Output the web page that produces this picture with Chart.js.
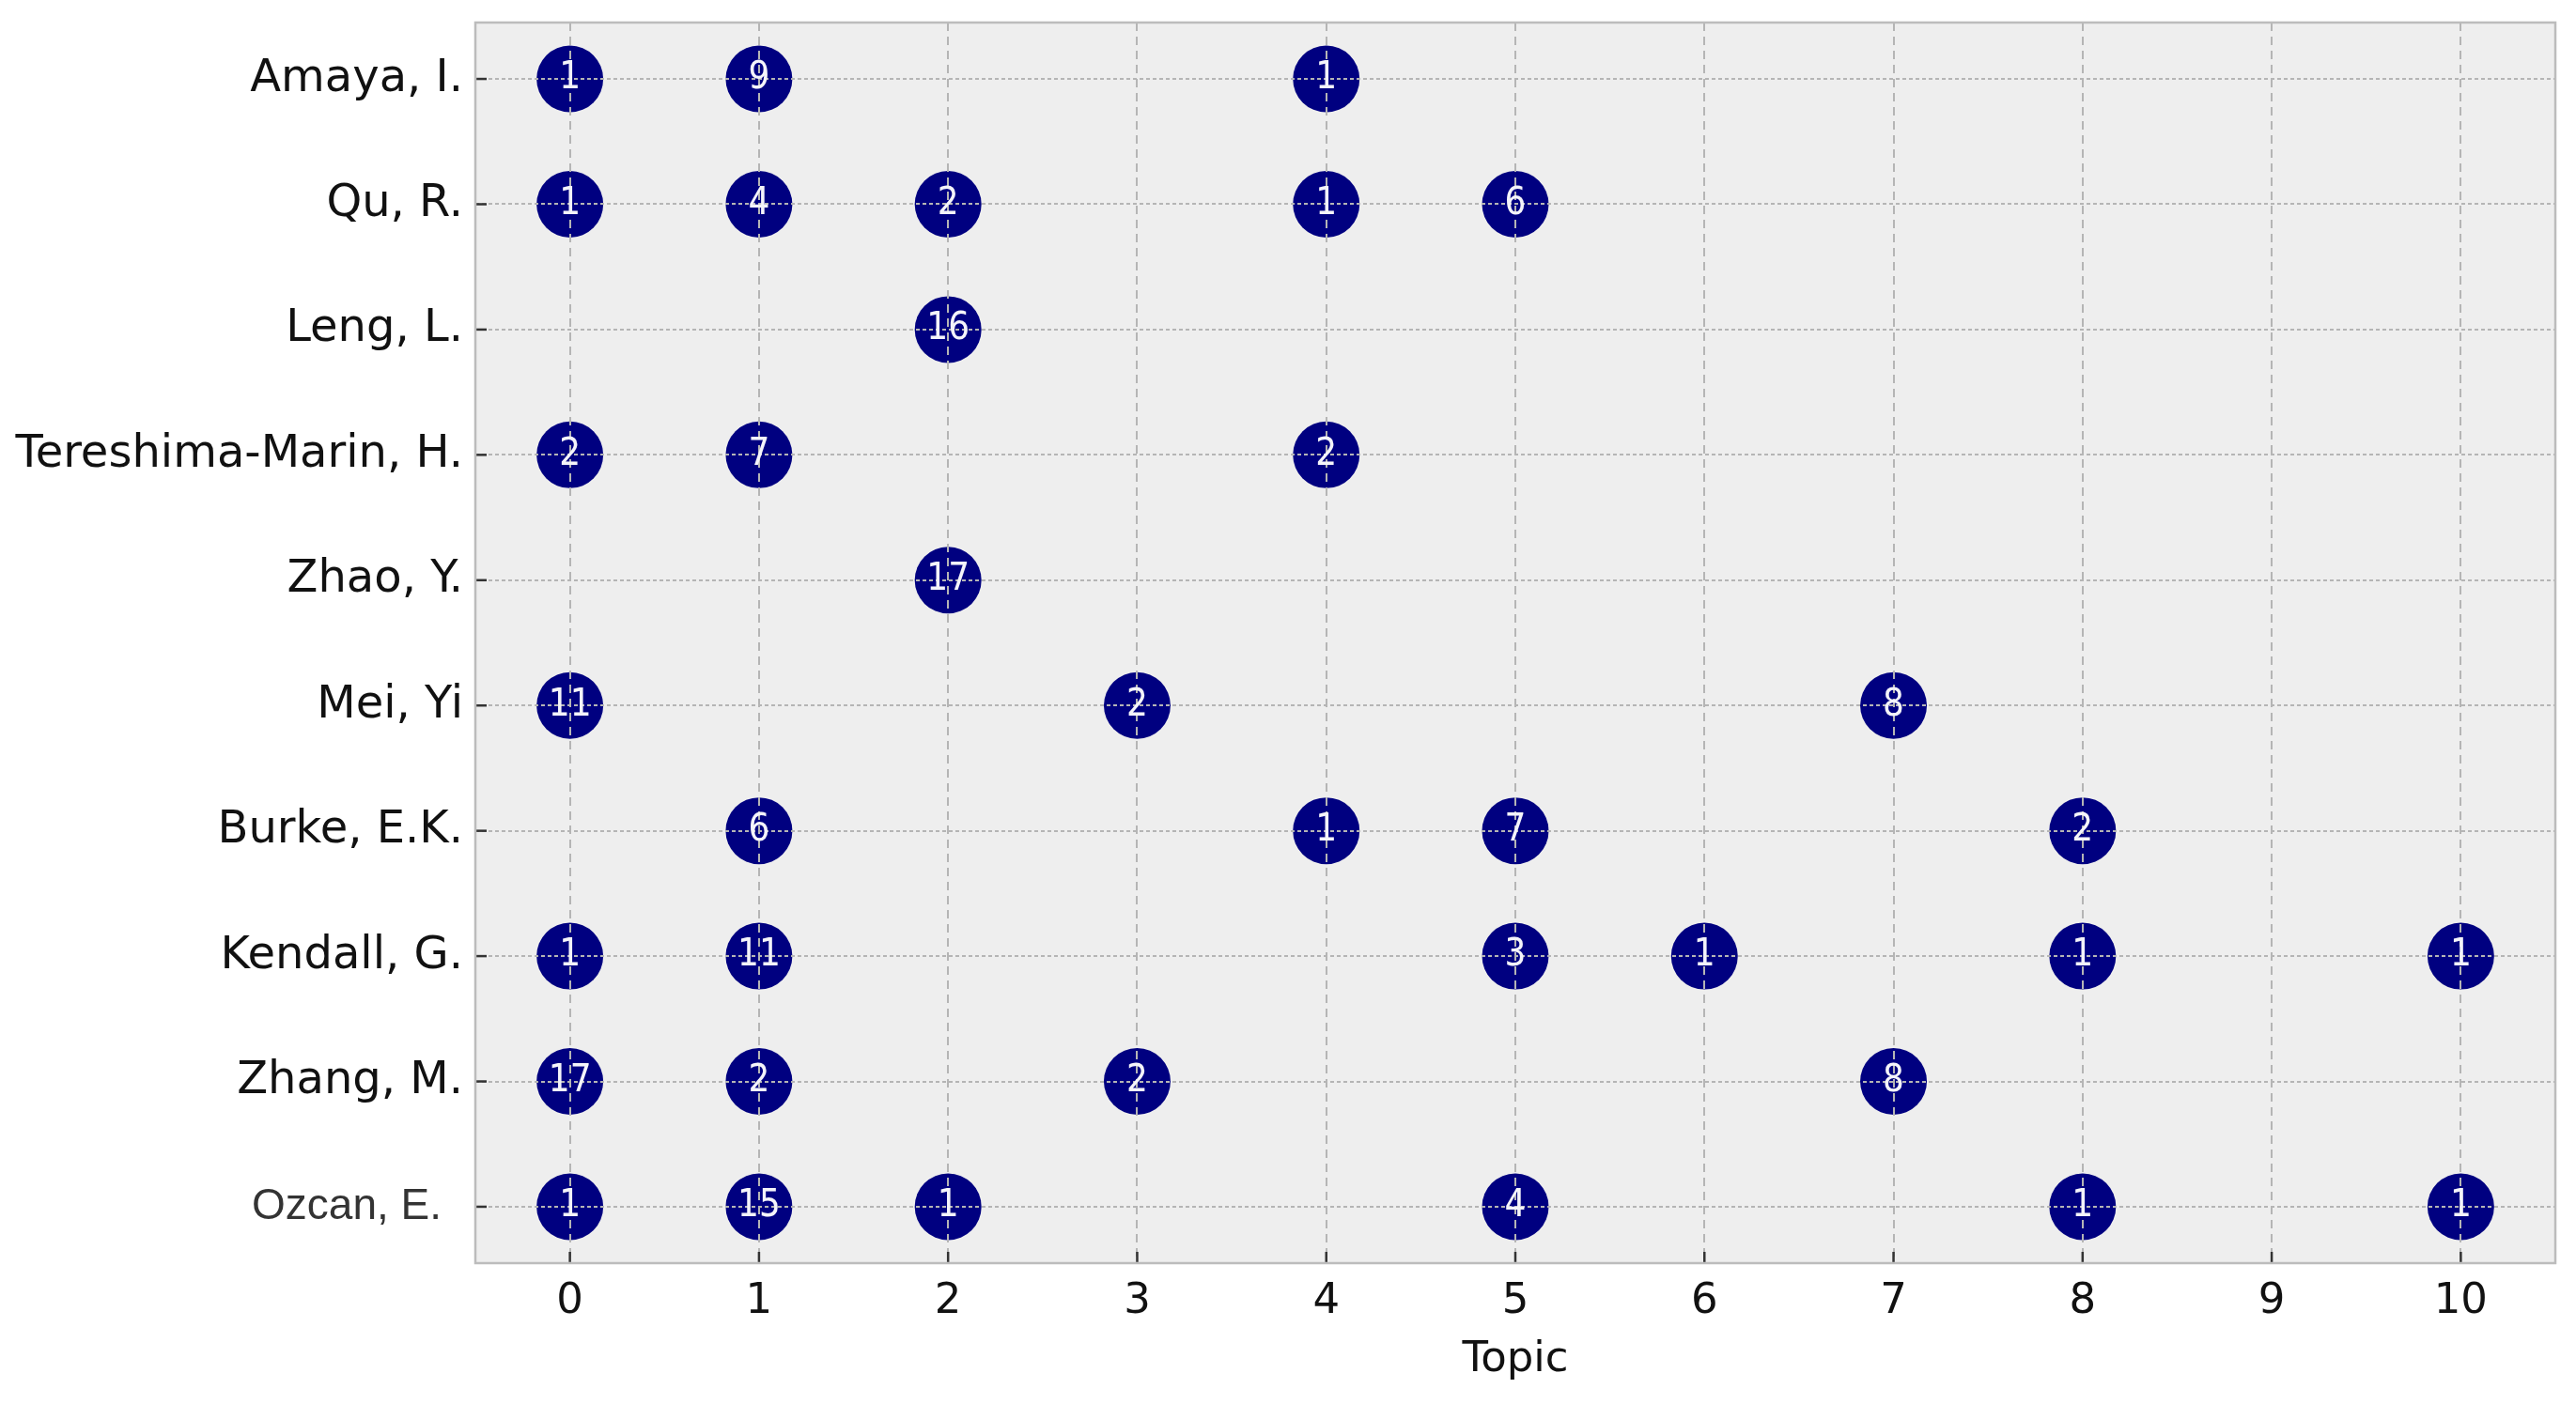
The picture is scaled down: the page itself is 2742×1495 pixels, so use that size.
<!DOCTYPE html>
<html>
<head>
<meta charset="utf-8">
<script src="https://cdn.jsdelivr.net/npm/chart.js@4/dist/chart.umd.min.js"></script>
<style>
  html, body { margin: 0; padding: 0; background: #fff; }
  #wrap { width: 2742px; height: 1495px; }
</style>
</head>
<body>
<div id="wrap"><canvas id="grafico" width="2742" height="1495"></canvas></div>
<script>
// autores de cima para baixo
const authors = [
  "Amaya, I.", "Qu, R.", "Leng, L.", "Tereshima-Marin, H.", "Zhao, Y.",
  "Mei, Yi", "Burke, E.K.", "Kendall, G.", "Zhang, M.", "Ozcan, E."
];

const topicTicks = [0, 1, 2, 3, 4, 5, 6, 7, 8, 9, 10];

// contagem por topico (0..10), null = sem ponto
const counts = [
  [1,    9,    null, null, 1,    null, null, null, null, null, null],
  [1,    4,    2,    null, 1,    6,    null, null, null, null, null],
  [null, null, 16,   null, null, null, null, null, null, null, null],
  [2,    7,    null, null, 2,    null, null, null, null, null, null],
  [null, null, 17,   null, null, null, null, null, null, null, null],
  [11,   null, null, 2,    null, null, null, 8,    null, null, null],
  [null, 6,    null, null, 1,    7,    null, null, 2,    null, null],
  [1,    11,   null, null, null, 3,    1,    null, 1,    null, 1],
  [17,   2,    null, 2,    null, null, null, 8,    null, null, null],
  [1,    15,   1,    null, null, 4,    null, null, 1,    null, 1]
];

const pontos = [];
counts.forEach((row, yi) => {
  row.forEach((c, xi) => {
    if (c !== null) pontos.push({ x: topicTicks[xi], y: yi, c: c });
  });
});

/* =========================
   PLUGINS
========================= */
const fundo = {
  id: "fundo",
  beforeDraw(chart) {
    const { ctx, chartArea: a } = chart;
    ctx.save();
    ctx.fillStyle = "#eeeeee";
    ctx.fillRect(a.left, a.top, a.right - a.left, a.bottom - a.top);
    ctx.restore();
  }
};

const moldura = {
  id: "moldura",
  afterDraw(chart) {
    const { ctx, chartArea: a, scales } = chart;
    ctx.save();
    // ticks para dentro
    ctx.strokeStyle = "#333";
    ctx.lineWidth = 2.5;
    scales.x.ticks.forEach(t => {
      const px = scales.x.getPixelForValue(t.value);
      ctx.beginPath();
      ctx.moveTo(px, a.bottom);
      ctx.lineTo(px, a.bottom - 12);
      ctx.stroke();
    });
    scales.y.ticks.forEach(t => {
      const py = scales.y.getPixelForValue(t.value);
      ctx.beginPath();
      ctx.moveTo(a.left, py);
      ctx.lineTo(a.left + 12, py);
      ctx.stroke();
    });
    ctx.strokeStyle = "#bcbcbc";
    ctx.lineWidth = 2.5;
    ctx.strokeRect(a.left, a.top, a.right - a.left, a.bottom - a.top);

    // numeros dentro dos circulos
    const meta = chart.getDatasetMeta(0);
    ctx.fillStyle = "#f4f4fa";
    ctx.font = "40px 'DejaVu Sans Condensed', 'DejaVu Sans', sans-serif";
    ctx.textAlign = "center";
    ctx.textBaseline = "middle";
    meta.data.forEach((el, i) => {
      ctx.fillText(String(pontos[i].c), el.x, el.y);
    });
    ctx.restore();
  }
};

/* =========================
   GRAFICO
========================= */
new Chart(document.getElementById("grafico"), {
  type: "scatter",
  data: {
    datasets: [{
      data: pontos,
      backgroundColor: "#000080",
      borderWidth: 0,
      pointRadius: 35.5,
      pointHoverRadius: 35.5
    }]
  },
  options: {
    responsive: false,
    devicePixelRatio: 1,
    animation: false,
    layout: { autoPadding: false, padding: { top: 24, right: 22, bottom: 0, left: 0 } },
    plugins: {
      legend: { display: false },
      tooltip: { enabled: false }
    },
    scales: {
      x: {
        type: "linear",
        min: -0.5,
        max: 10.5,
        afterBuildTicks: s => { s.ticks = topicTicks.map(v => ({ value: v })); },
        afterFit: s => { s.height = 150; s.paddingLeft = 0; s.paddingRight = 0; },
        grid: { color: "#b5b5b5", lineWidth: 2, drawTicks: false, z: 1 },
        border: { display: false, dash: [9, 6] },
        ticks: {
          padding: 14,
          color: "#111",
          font: { family: "DejaVu Sans", size: 45 },
          callback: v => String(v)
        },
        title: {
          display: true,
          text: "Topic",
          color: "#111",
          font: { family: "DejaVu Sans", size: 45 },
          padding: { top: 0, bottom: 20 }
        }
      },
      y: {
        type: "linear",
        reverse: true,
        min: -0.45,
        max: 9.45,
        afterBuildTicks: s => { s.ticks = authors.map((_, i) => ({ value: i })); },
        afterFit: s => { s.width = 506; s.paddingTop = 0; s.paddingBottom = 0; },
        grid: { color: "#b5b5b5", lineWidth: 2, drawTicks: false, z: 1 },
        border: { display: false, dash: [4, 3] },
        ticks: {
          padding: 13,
          color: ctx => ctx.index === 9 ? "#333" : "#111",
          font: ctx => ctx.index === 9
            ? { family: "Liberation Sans", size: 46 }
            : { family: "DejaVu Sans", size: 48 },
          callback: v => v === 9 ? authors[v] + "\u2002" : authors[v]
        }
      }
    }
  },
  plugins: [fundo, moldura]
});
</script>
</body>
</html>
